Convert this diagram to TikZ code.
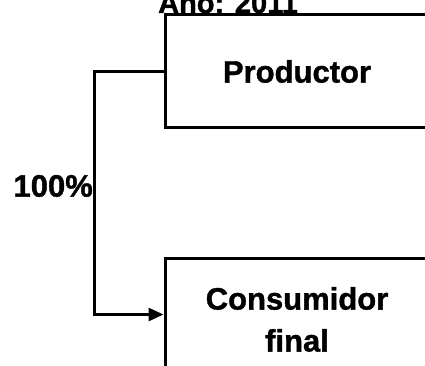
\documentclass[tikz,border=0pt]{standalone}
\usepackage{fontspec}
\setmainfont{Liberation Sans}[BoldFeatures={FakeBold=1.2}]
\usetikzlibrary{arrows.meta}
\tikzset{
  caja/.style={draw, line width=3pt, rectangle, align=center, inner sep=0pt},
  rotulo/.style={font=\fontsize{31}{42}\selectfont\bfseries},
}
\begin{document}
\begin{tikzpicture}[x=1pt, y=-1pt]
\useasboundingbox (0,0) rectangle (425,366);
\node [rotulo, font=\fontsize{29}{34}\selectfont\bfseries, anchor=base] (titulo) at (228,13) {Año: 2011};
\node [caja, rotulo, minimum width=264pt, minimum height=113pt] (prod) at (297,71.5) {Productor};
\node [caja, rotulo, minimum width=264pt, minimum height=123pt] (cons) at (297,319.5) {Consumidor\\final};
\draw [line width=2.8pt, -{Triangle[length=15pt,width=13pt]}] (prod.west) -- ++(-69,0) coordinate (codo) |- ([yshift=5pt]cons.west);
\node [rotulo, anchor=east, inner sep=2pt] (pct) at (95,186) {100\%};
\end{tikzpicture}
\end{document}
